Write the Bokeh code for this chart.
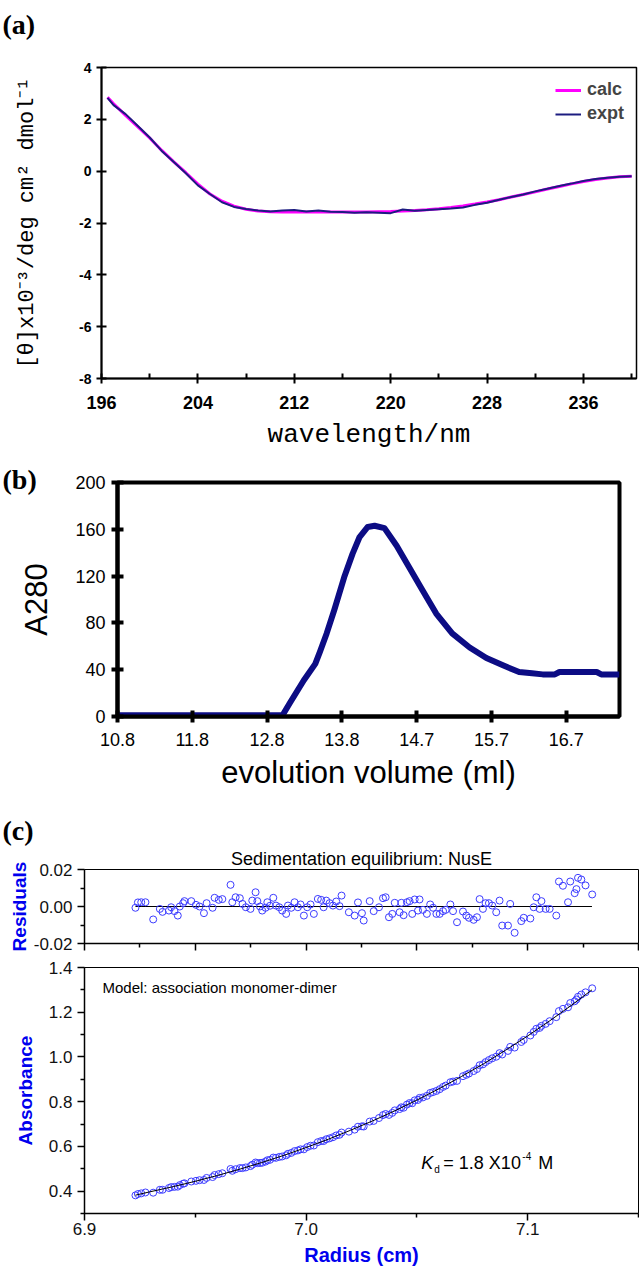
from bokeh.plotting import figure
from bokeh.models import FixedTicker, Label, NumeralTickFormatter, Title
from bokeh.layouts import column, row
from bokeh.embed import file_html
from bokeh.resources import INLINE

# ---------------- Panel (a): CD spectrum ----------------
cd_wavelength = [196.5, 197, 198, 199, 200, 201, 202, 203, 204, 205, 206, 207, 208, 209, 210,
                 211, 212, 213, 214, 215, 216, 217, 218, 219, 220, 221, 222, 223, 224, 225,
                 226, 227, 228, 229, 230, 231, 232, 233, 234, 235, 236, 237, 238, 239, 240]
cd_expt = [2.83, 2.55, 2.20, 1.75, 1.30, 0.78, 0.35, -0.08, -0.55, -0.88, -1.20, -1.38, -1.46, -1.52, -1.56,
           -1.52, -1.50, -1.56, -1.52, -1.57, -1.58, -1.60, -1.59, -1.60, -1.62, -1.48, -1.53, -1.50, -1.47, -1.44,
           -1.40, -1.30, -1.22, -1.10, -1.00, -0.90, -0.78, -0.68, -0.57, -0.48, -0.38, -0.30, -0.25, -0.22, -0.20]
cd_calc = [2.85, 2.60, 2.15, 1.72, 1.28, 0.80, 0.36, -0.06, -0.50, -0.88, -1.16, -1.35, -1.47, -1.54, -1.57,
           -1.58, -1.58, -1.58, -1.58, -1.58, -1.58, -1.58, -1.58, -1.57, -1.56, -1.54, -1.52, -1.49, -1.45, -1.40,
           -1.34, -1.27, -1.19, -1.10, -1.00, -0.90, -0.80, -0.69, -0.59, -0.49, -0.40, -0.32, -0.26, -0.22, -0.20]
cd_xticks = [196, 204, 212, 220, 228, 236]
cd_xminor = [200, 208, 216, 224, 232, 240]
cd_yticks = [-8, -6, -4, -2, 0, 2, 4]

# ---------------- Panel (b): gel filtration ----------------
sec_volume = [10.80, 12.97, 13.07, 13.25, 13.40, 13.46, 13.55, 13.65, 13.78, 13.89, 13.98, 14.09, 14.18, 14.31, 14.47,
              14.64, 14.81, 14.99, 15.20, 15.43, 15.65, 15.86, 16.08, 16.25, 16.39, 16.55, 16.61, 17.10, 17.16, 17.40]
sec_a280 = [1, 1, 12, 31, 45, 55, 71, 91, 119, 139, 153, 162, 163, 161, 146,
            127, 108, 88, 71, 59, 50, 44, 38, 37, 36, 36, 38, 38, 36, 36]
sec_tick_labels = ["10.8", "11.8", "12.8", "13.8", "14.7", "15.7", "16.7"]
sec_yticks = [0, 40, 80, 120, 160, 200]

# ---------------- Panel (c): sedimentation equilibrium ----------------
sed_radius = [6.9230, 6.9241, 6.9256, 6.9275, 6.9310, 6.9340, 6.9352, 6.9381, 6.9391, 6.9406,
              6.9421, 6.9430, 6.9445, 6.9451, 6.9482, 6.9503, 6.9519, 6.9539, 6.9551, 6.9578,
              6.9587, 6.9606, 6.9622, 6.9659, 6.9667, 6.9682, 6.9701, 6.9713, 6.9728, 6.9749,
              6.9757, 6.9772, 6.9780, 6.9792, 6.9802, 6.9817, 6.9825, 6.9837, 6.9852, 6.9864,
              6.9879, 6.9892, 6.9910, 6.9918, 6.9933, 6.9948, 6.9963, 6.9975, 6.9990, 7.0005,
              7.0020, 7.0035, 7.0053, 7.0068, 7.0079, 7.0091, 7.0106, 7.0121, 7.0136, 7.0151,
              7.0160, 7.0193, 7.0219, 7.0234, 7.0252, 7.0260, 7.0287, 7.0305, 7.0329, 7.0347,
              7.0359, 7.0374, 7.0389, 7.0400, 7.0422, 7.0430, 7.0440, 7.0455, 7.0467, 7.0479,
              7.0490, 7.0505, 7.0512, 7.0527, 7.0545, 7.0560, 7.0573, 7.0588, 7.0603, 7.0618,
              7.0630, 7.0651, 7.0663, 7.0681, 7.0708, 7.0723, 7.0735, 7.0756, 7.0771, 7.0783,
              7.0798, 7.0810, 7.0825, 7.0840, 7.0858, 7.0873, 7.0885, 7.0911, 7.0921, 7.0941,
              7.0971, 7.0982, 7.1012, 7.1027, 7.1039, 7.1054, 7.1062, 7.1081, 7.1099, 7.1129,
              7.1141, 7.1159, 7.1182, 7.1192, 7.1212, 7.1220, 7.1227, 7.1242, 7.1261, 7.1291]
sed_residual = [-0.0007, 0.0022, 0.0023, 0.0023, -0.0070, -0.0013, -0.0029, -0.0022, -0.0004, -0.0025,
                -0.0049, 0.0000, 0.0018, 0.0029, 0.0029, 0.0009, 0.0000, -0.0036, 0.0018, -0.0007,
                0.0047, 0.0036, 0.0040, 0.0117, 0.0023, 0.0050, 0.0045, 0.0014, -0.0004, -0.0013,
                0.0032, 0.0077, 0.0029, 0.0000, -0.0022, -0.0007, 0.0023, 0.0004, 0.0047, 0.0005,
                -0.0004, -0.0022, -0.0040, 0.0005, -0.0007, 0.0023, -0.0004, 0.0011, -0.0049, -0.0004,
                0.0011, -0.0040, 0.0041, 0.0036, -0.0004, 0.0032, 0.0018, 0.0005, 0.0027, 0.0002,
                0.0059, -0.0031, -0.0049, 0.0022, -0.0036, -0.0076, 0.0029, -0.0025, -0.0004, 0.0045,
                0.0050, -0.0058, -0.0040, 0.0020, -0.0031, 0.0020, -0.0047, 0.0023, 0.0029, -0.0040,
                0.0038, -0.0022, 0.0038, -0.0018, -0.0040, 0.0011, -0.0007, -0.0040, -0.0040, -0.0025,
                -0.0018, 0.0011, -0.0025, -0.0085, -0.0027, -0.0049, -0.0061, -0.0072, -0.0058, 0.0040,
                -0.0013, 0.0018, 0.0018, 0.0005, -0.0031, 0.0032, -0.0103, -0.0103, 0.0014, -0.0142,
                -0.0079, -0.0061, -0.0065, -0.0004, 0.0050, -0.0013, 0.0029, -0.0013, -0.0013, -0.0049,
                0.0135, 0.0112, 0.0023, 0.0135, 0.0072, 0.0094, 0.0155, 0.0146, 0.0114, 0.0065]
sed_absorbance = [0.381, 0.387, 0.390, 0.394, 0.393, 0.406, 0.406, 0.414, 0.418, 0.419,
                  0.420, 0.427, 0.433, 0.435, 0.443, 0.446, 0.449, 0.450, 0.459, 0.463,
                  0.472, 0.476, 0.480, 0.499, 0.491, 0.498, 0.503, 0.503, 0.506, 0.512,
                  0.518, 0.528, 0.525, 0.526, 0.527, 0.532, 0.538, 0.540, 0.550, 0.549,
                  0.553, 0.555, 0.560, 0.567, 0.571, 0.579, 0.582, 0.587, 0.587, 0.597,
                  0.603, 0.604, 0.619, 0.624, 0.624, 0.632, 0.636, 0.641, 0.649, 0.652,
                  0.662, 0.666, 0.675, 0.688, 0.690, 0.689, 0.711, 0.714, 0.727, 0.740,
                  0.745, 0.741, 0.750, 0.761, 0.767, 0.775, 0.773, 0.787, 0.794, 0.793,
                  0.806, 0.808, 0.817, 0.819, 0.826, 0.839, 0.843, 0.848, 0.856, 0.866,
                  0.872, 0.887, 0.890, 0.893, 0.914, 0.920, 0.926, 0.937, 0.946, 0.963,
                  0.967, 0.977, 0.986, 0.994, 1.001, 1.017, 1.011, 1.027, 1.045, 1.042,
                  1.067, 1.076, 1.096, 1.112, 1.126, 1.130, 1.139, 1.148, 1.160, 1.178,
                  1.205, 1.215, 1.222, 1.241, 1.249, 1.257, 1.269, 1.279, 1.289, 1.307]
sed_fit_x = [6.923, 6.930, 6.940, 6.950, 6.960, 6.970, 6.980, 6.990, 7.000, 7.010, 7.020,
             7.030, 7.040, 7.050, 7.060, 7.070, 7.080, 7.090, 7.100, 7.110, 7.120, 7.129]
sed_fit_y = [0.382, 0.398, 0.420, 0.444, 0.470, 0.498, 0.528, 0.560, 0.595, 0.632, 0.672,
             0.714, 0.759, 0.807, 0.858, 0.912, 0.969, 1.030, 1.094, 1.162, 1.233, 1.300]
assert len(sed_radius) == len(sed_residual) == len(sed_absorbance)

BLUE = "#0000ee"
MARK = "#3c3cff"
SANS = "Liberation Sans"
SERIF = "Liberation Serif"


def add_label(p, x, y, text, size, style="normal", font=SANS, align="left",
              baseline="middle", color="black", x_offset=0):
    p.add_layout(Label(x=x, y=y, text=text, text_font=font, text_font_size=size,
                       text_font_style=style, text_align=align, text_baseline=baseline,
                       text_color=color, x_offset=x_offset))


def add_title(p, text, size, style, font, align, offset, standoff, valign="bottom"):
    p.add_layout(Title(text=text, text_font=font, text_font_size=size, text_font_style=style,
                       align=align, offset=offset, standoff=standoff, vertical_align=valign,
                       text_color="black"), "above")


def base_fig(fw, fh, xr, yr, left, right, top, bottom):
    p = figure(frame_width=fw, frame_height=fh, x_range=xr, y_range=yr, title=None,
               output_backend="svg", toolbar_location=None,
               min_border_left=left, min_border_right=right,
               min_border_top=top, min_border_bottom=bottom)
    p.grid.visible = False
    p.background_fill_color = "white"
    p.border_fill_color = "white"
    return p


# ---------- (a) ----------  frame x 101..636, y 67..378
pa = base_fig(535, 311, (196, 240.4), (-8, 4), 101, 3, 67, 82)
pa.outline_line_color = "black"
pa.outline_line_width = 1.5
pa.line(cd_wavelength, cd_calc, color="#ff00ff", line_width=3, legend_label="calc")
pa.line(cd_wavelength, cd_expt, color="#1c1c80", line_width=2, legend_label="expt")
xa = pa.xaxis[0]
xa.ticker = FixedTicker(ticks=cd_xticks, minor_ticks=cd_xminor)
xa.major_tick_in = 5
xa.major_tick_out = 5
xa.minor_tick_in = 5
xa.minor_tick_out = 0
xa.major_label_standoff = 12
xa.axis_label = "wavelength/nm"
xa.axis_label_standoff = 8
xa.axis_label_text_font = "Liberation Mono"
xa.axis_label_text_font_size = "26px"
xa.axis_label_text_font_style = "normal"
ya = pa.yaxis[0]
ya.ticker = FixedTicker(ticks=cd_yticks, minor_ticks=[])
ya.major_label_overrides = {t: str(t) for t in cd_yticks}
ya.major_tick_in = 5
ya.major_tick_out = 5
ya.major_label_standoff = 5
ya.axis_label = "[θ]x10⁻³/deg cm² dmol⁻¹"
ya.axis_label_standoff = 36
ya.axis_label_text_font = "Liberation Mono"
ya.axis_label_text_font_size = "22px"
ya.axis_label_text_font_style = "normal"
for ax, fs in ((xa, "18px"), (ya, "14px")):
    ax.axis_line_width = 2
    ax.major_tick_line_width = 2
    ax.minor_tick_line_width = 2
    ax.major_label_text_font = SANS
    ax.major_label_text_font_style = "bold"
    ax.major_label_text_font_size = fs
    ax.major_label_text_color = "black"
    ax.axis_label_text_color = "black"
lg = pa.legend[0]
lg.location = "top_right"
lg.border_line_color = None
lg.background_fill_alpha = 0
lg.label_text_font = SANS
lg.label_text_font_style = "bold"
lg.label_text_font_size = "18px"
lg.glyph_width = 26
lg.label_standoff = 6
lg.spacing = 3
lg.padding = 2
lg.margin = 12
# the trailing line break lifts the panel letter towards the top edge, as in the reference
add_title(pa, "(a)\n", "28px", "bold", SERIF, "left", -99, -6)

# ---------- (b) ----------  frame x 117..619, y 482..716
pb = base_fig(502, 234, (10.8, 17.4), (0, 200), 117, 20, 22, 84)
pb.outline_line_color = "black"
pb.outline_line_width = 4
pb.line(sec_volume, sec_a280, color="#0c0c84", line_width=6, line_join="round")
sec_ticks = [10.8 + i * (16.7 - 10.8) / 6 for i in range(7)]
xb = pb.xaxis[0]
xb.ticker = FixedTicker(ticks=sec_ticks, minor_ticks=[])
xb.major_label_overrides = dict(zip(sec_ticks, sec_tick_labels))
xb.major_label_standoff = 10
xb.axis_label = "evolution volume (ml)"
xb.axis_label_standoff = 6
yb = pb.yaxis[0]
yb.ticker = FixedTicker(ticks=sec_yticks, minor_ticks=[])
yb.major_label_standoff = 6
yb.axis_label = "A280"
yb.axis_label_standoff = 18
for ax in (xb, yb):
    ax.axis_line_width = 4
    ax.major_tick_line_width = 4
    ax.major_tick_in = 6
    ax.major_tick_out = 6
    ax.major_label_text_font = SANS
    ax.major_label_text_font_size = "18px"
    ax.major_label_text_color = "black"
    ax.axis_label_text_font = SANS
    ax.axis_label_text_font_size = "31px"
    ax.axis_label_text_font_style = "normal"
    ax.axis_label_text_color = "black"
add_title(pb, "(b)", "28px", "bold", SERIF, "left", -115, -25)

# ---------- (c) residuals ----------  frame x 84..638, y 869..943
pc1 = base_fig(554, 74, (6.9, 7.15), (-0.02, 0.02), 84, 1, 69, 12)
pc1.outline_line_color = "black"
pc1.outline_line_width = 1
pc1.line([sed_fit_x[0], sed_fit_x[-1]], [0, 0], color="black", line_width=1)
pc1.scatter(sed_radius, sed_residual, marker="circle", size=7, fill_color=None,
            line_color=MARK, line_width=1)
res_xticks = [6.9, 6.95, 7.0, 7.05, 7.1, 7.15]
xc1 = pc1.xaxis[0]
xc1.ticker = FixedTicker(ticks=res_xticks, minor_ticks=[6.925, 6.975, 7.025, 7.075, 7.125])
xc1.major_label_overrides = {t: "" for t in res_xticks}
xc1.major_label_standoff = 0
yc1 = pc1.yaxis[0]
yc1.ticker = FixedTicker(ticks=[-0.02, 0.0, 0.02], minor_ticks=[-0.01, 0.01])
yc1.major_label_overrides = {-0.02: "-0.02", 0.0: "0.00", 0.02: "0.02"}
yc1.major_label_standoff = 5
yc1.axis_label = "Residuals"
yc1.axis_label_standoff = 1
for ax in (xc1, yc1):
    ax.axis_line_width = 1.5
    ax.major_tick_in = 0
    ax.major_tick_out = 7
    ax.minor_tick_in = 0
    ax.minor_tick_out = 4
    ax.major_tick_line_width = 1.5
    ax.minor_tick_line_width = 1.5
    ax.major_label_text_font = SANS
    ax.major_label_text_color = "#111111"
    ax.axis_label_text_font = SANS
    ax.axis_label_text_font_style = "bold"
    ax.axis_label_text_color = BLUE
yc1.major_label_text_font_size = "17px"
yc1.axis_label_text_font_size = "19px"
add_title(pc1, "Sedimentation equilibrium: NusE", "18px", "normal", SANS, "center", -13, 2)
add_title(pc1, "(c)", "28px", "bold", SERIF, "left", -82, 0)

# ---------- (c) absorbance ----------  frame x 84..638, y 967..1213
pc2 = base_fig(554, 246, (6.9, 7.15), (0.3, 1.4), 84, 1, 12, 57)
pc2.outline_line_color = "black"
pc2.outline_line_width = 1
pc2.scatter(sed_radius, sed_absorbance, marker="circle", size=7, fill_color=None,
            line_color=MARK, line_width=1)
pc2.line(sed_fit_x, sed_fit_y, color="black", line_width=1)
xc2 = pc2.xaxis[0]
xc2.ticker = FixedTicker(ticks=[6.9, 7.0, 7.1], minor_ticks=[6.95, 7.05, 7.15])
xc2.formatter = NumeralTickFormatter(format="0.0")
xc2.major_label_standoff = 2
xc2.axis_label = "Radius (cm)"
xc2.axis_label_standoff = 6
yc2 = pc2.yaxis[0]
yc2.ticker = FixedTicker(ticks=[0.4, 0.6, 0.8, 1.0, 1.2, 1.4], minor_ticks=[0.3, 0.5, 0.7, 0.9, 1.1, 1.3])
yc2.formatter = NumeralTickFormatter(format="0.0")
yc2.major_label_standoff = 5
yc2.axis_label = "Absorbance"
yc2.axis_label_standoff = 10
for ax in (xc2, yc2):
    ax.axis_line_width = 1.5
    ax.major_tick_in = 0
    ax.major_tick_out = 7
    ax.minor_tick_in = 0
    ax.minor_tick_out = 4
    ax.major_tick_line_width = 1.5
    ax.minor_tick_line_width = 1.5
    ax.major_label_text_font = SANS
    ax.major_label_text_font_size = "17px"
    ax.major_label_text_color = "#111111"
    ax.axis_label_text_font = SANS
    ax.axis_label_text_font_style = "bold"
    ax.axis_label_text_color = BLUE
xc2.axis_label_text_font_size = "20px"
yc2.axis_label_text_font_size = "19px"
add_label(pc2, 6.9081, 1.31, "Model: association monomer-dimer", "15px")
kd_x, kd_y = 7.052, 0.528
add_label(pc2, kd_x, kd_y, "K", "18px", style="italic")
add_label(pc2, kd_x, kd_y - 0.03, "d", "10px", x_offset=13)
add_label(pc2, kd_x, kd_y, "= 1.8 X10", "18px", x_offset=22)
add_label(pc2, kd_x, kd_y + 0.03, "-4", "10px", x_offset=101)
add_label(pc2, kd_x, kd_y, "M", "18px", x_offset=117)

# each figure sits in its own row so that the column does not line up the frames
layout = column(row(pa), row(pb), row(pc1), row(pc2))
open("out.html", "w").write(file_html(layout, INLINE))
